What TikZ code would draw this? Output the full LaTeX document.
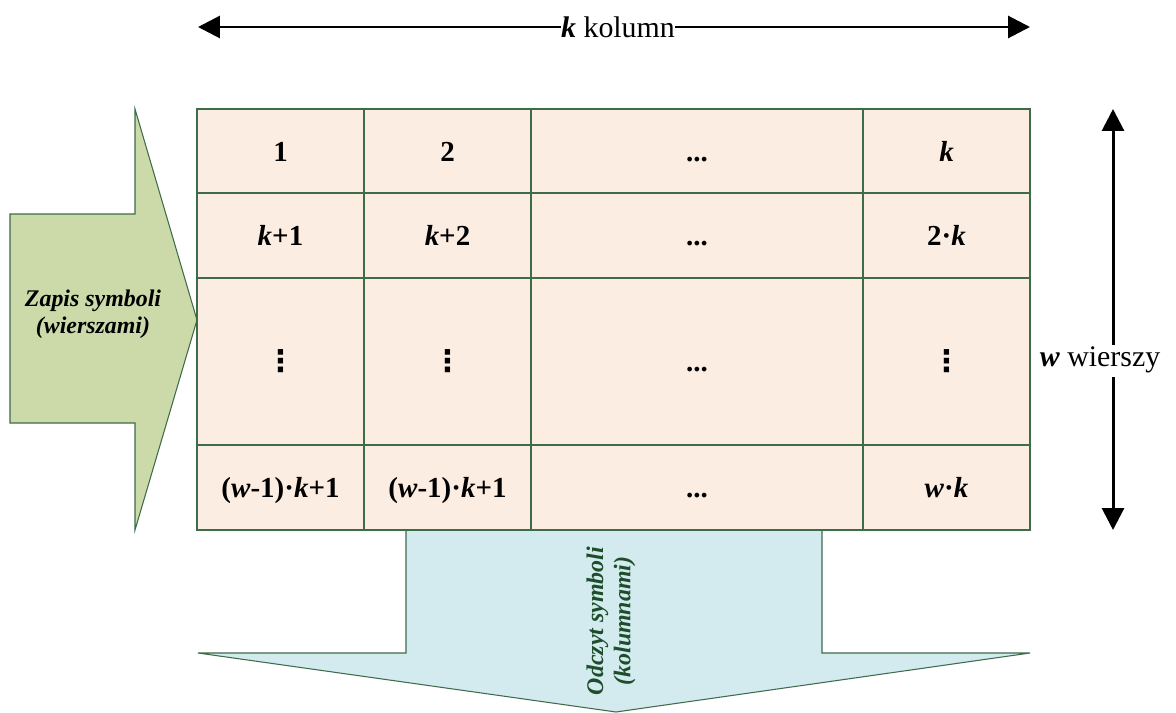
\documentclass[tikz,border=0pt]{standalone}
\usepackage{fontspec}
\setmainfont{Liberation Serif}
\newfontfamily\dejavu{DejaVu Sans}
\usetikzlibrary{arrows.meta}
\definecolor{peach}{HTML}{FCEDE2}
\definecolor{leaf}{HTML}{CCDAAA}
\definecolor{ice}{HTML}{D3EAEF}
\definecolor{edge}{HTML}{3E6B48}
\definecolor{darkgreen}{HTML}{1E4D2B}
\tikzset{
  cellbox/.style={draw=edge, fill=peach, line width=0.6pt},
  celltext/.style={font=\fontsize{16.5}{19}\selectfont\bfseries, anchor=base, inner sep=0pt},
  dotstext/.style={font=\fontsize{17}{19}\selectfont\dejavu\bfseries, inner sep=0pt},
  bigarrow/.style={draw=edge, line width=0.6pt},
  dimarrow/.style={line width=1.7pt, -{Triangle[length=12.5pt,width=12.5pt]}},
  dimlabel/.style={font=\fontsize{17}{20}\selectfont, inner sep=0pt},
  arrowlabel/.style={font=\fontsize{13.6}{15.5}\selectfont\bfseries\itshape, align=center, inner sep=0pt}
}
\newcommand\tcell[6]{\draw[cellbox] (#2,#3) rectangle (#4,#5);
  \node[celltext] (#1) at ({(#2+#4)/2},{(#3+#5)/2+10}) {#6};}
\newcommand\dcell[6]{\draw[cellbox] (#2,#3) rectangle (#4,#5);
  \node[dotstext] (#1) at ({(#2+#4)/2},{(#3+#5)/2}) {#6};}
\begin{document}
\begin{tikzpicture}[x=0.02cm,y=-0.02cm]
\useasboundingbox (0,0) rectangle (1176,713);
% blue arrow (reading by columns)
\path[bigarrow, fill=ice] (406,530) -- (822,530) -- (822,653) -- (1030,653) -- (616,712) -- (198,653) -- (406,653) -- cycle;
\node[arrowlabel, text=darkgreen, rotate=90] (odczyt) at (611,621) {Odczyt symboli\\(kolumnami)};
% green arrow (writing by rows)
\path[bigarrow, fill=leaf] (10,214) -- (135,214) -- (135,109) -- (197,320) -- (135,530) -- (135,423) -- (10,423) -- cycle;
\node[arrowlabel] (zapis) at (93,314) {Zapis symboli\\(wierszami)};
% table
\tcell{c11}{197}{109}{364}{193}{1}
\tcell{c12}{364}{109}{531}{193}{2}
\tcell{c13}{531}{109}{863}{193}{...}
\tcell{c14}{863}{109}{1030}{193}{\textit{k}}
\tcell{c21}{197}{193}{364}{278}{\textit{k}+1}
\tcell{c22}{364}{193}{531}{278}{\textit{k}+2}
\tcell{c23}{531}{193}{863}{278}{...}
\tcell{c24}{863}{193}{1030}{278}{2·\textit{k}}
\dcell{c31}{197}{278}{364}{445}{⋮}
\dcell{c32}{364}{278}{531}{445}{⋮}
\tcell{c33}{531}{278}{863}{445}{...}
\dcell{c34}{863}{278}{1030}{445}{⋮}
\tcell{c41}{197}{445}{364}{530}{(\textit{w}-1)·\textit{k}+1}
\tcell{c42}{364}{445}{531}{530}{(\textit{w}-1)·\textit{k}+1}
\tcell{c43}{531}{445}{863}{530}{...}
\tcell{c44}{863}{445}{1030}{530}{\textit{w}·\textit{k}}
% top dimension
\node[dimlabel] (kk) at (618,27) {\textbf{\textit{k}} kolumn};
\coordinate (kL) at (198,27);
\coordinate (kR) at (1030,27);
\draw[dimarrow] (kk.west) -- (kL);
\draw[dimarrow] (kk.east) -- (kR);
% right dimension
\node[dimlabel] (ww) at (1100,360) {\textbf{\textit{w}} wierszy};
\coordinate (wT) at (1113,109);
\coordinate (wB) at (1113,530);
\draw[dimarrow] (1113,345) -- (wT);
\draw[dimarrow] (1113,377) -- (wB);
\end{tikzpicture}
\end{document}
